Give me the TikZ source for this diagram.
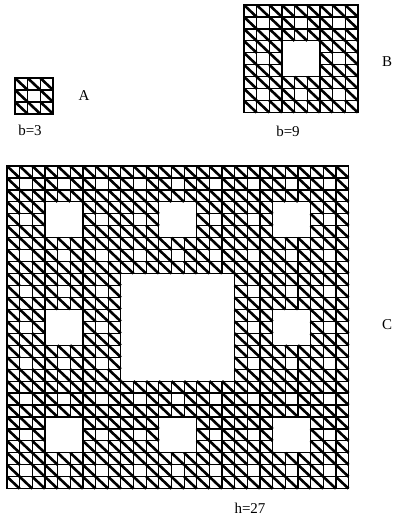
\documentclass[tikz,border=0pt]{standalone}
\usepackage{fontspec}
\setmainfont{Liberation Serif}

% cell size of the carpets
\def\cw{12.65}
\def\ch{11.95}

\tikzset{
  cellbox/.style={draw=black, line width=1.2pt},
  cellhatch/.style={draw=black, line width=2.6pt},
  carpetframe/.style={draw=black, line width=1.6pt},
  carpetlabel/.style={font=\fontsize{15}{15}\selectfont, inner sep=0pt},
}

% Sierpinski carpet: x0, y0, number of cells per side
\newcommand{\carpet}[3]{%
  \pgfmathtruncatemacro\cmax{#3-1}
  \foreach \i in {0,...,\cmax}{
    \foreach \j in {0,...,\cmax}{
      \pgfmathtruncatemacro\hole{((mod(\i,3)==1)&&(mod(\j,3)==1))||((mod(floor(\i/3),3)==1)&&(mod(floor(\j/3),3)==1))||((mod(floor(\i/9),3)==1)&&(mod(floor(\j/9),3)==1))}
      \ifnum\hole=0
        \draw[cellbox] (#1+\i*\cw, #2+\j*\ch) rectangle ++(\cw, \ch);
        \draw[cellhatch] (#1+\i*\cw, #2+\j*\ch) -- ++(\cw, \ch);
      \fi
    }
  }
  \draw[carpetframe] (#1, #2) rectangle ++(#3*\cw, #3*\ch);
}

\begin{document}
\begin{tikzpicture}[x=1pt, y=-1pt]
  \useasboundingbox (0,0) rectangle (397,520);

  % Carpet A
  \carpet{15}{78}{3}
  \node[carpetlabel] (labA) at (84,96) {A};
  \node[carpetlabel] (sizeA) at (30,130) {b=3};

  % Carpet B
  \carpet{244}{5}{9}
  \node[carpetlabel] (labB) at (387,62) {B};
  \node[carpetlabel] (sizeB) at (288,131) {b=9};

  % Carpet C
  \carpet{7}{166}{27}
  \node[carpetlabel] (labC) at (387,325) {C};
  \node[carpetlabel] (sizeC) at (250,508) {h=27};
\end{tikzpicture}
\end{document}
